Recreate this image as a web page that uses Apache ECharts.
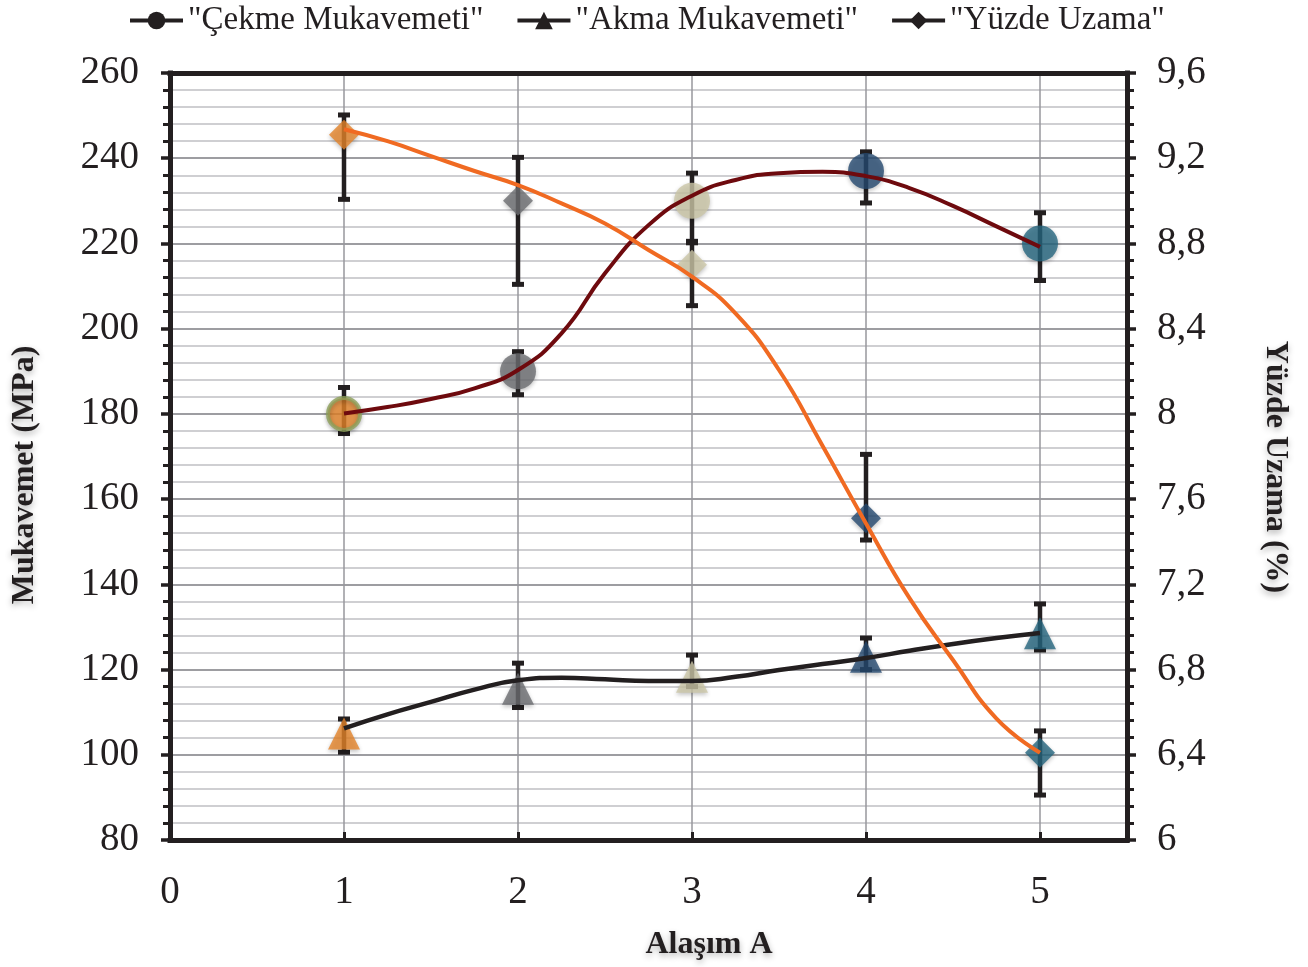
<!DOCTYPE html>
<html>
<head>
<meta charset="utf-8">
<script src="https://cdn.jsdelivr.net/npm/echarts@6/dist/echarts.min.js"></script>
<style>
html,body{margin:0;padding:0;background:#fff;}
#chart{width:1308px;height:967px;}
</style>
</head>
<body>
<div id="chart"></div>
<script>
// ---- data ----
const alloys = [1, 2, 3, 4, 5];
const seriesNames = ['"Çekme Mukavemeti"', '"Akma Mukavemeti"', '"Yüzde Uzama"'];
const pointColors = ['#e5852b', '#6d6e72', '#ccc7a7', '#254a70', '#26667f'];

const cekme = [180, 190, 230, 237, 220];
const cekmeLow = [175.4, 184.5, 220.5, 229.5, 211.3];
const cekmeHigh = [186.2, 194.6, 236.5, 241.5, 227.2];

const akma = [105, 115.5, 118.3, 123, 128.5];
const akmaLow = [100.6, 111.1, 116, 120, 124.6];
const akmaHigh = [108.4, 121.5, 123.4, 127.4, 135.4];

const uzama = [9.31, 9.0, 8.7, 7.51, 6.41];
const uzamaLow = [9.007, 8.608, 8.508, 7.408, 6.211];
const uzamaHigh = [9.403, 9.204, 8.803, 7.81, 6.512];

// trend curves
const trendX = [1, 1.25, 1.5, 1.75, 2, 2.25, 2.5, 2.75, 3, 3.25, 3.5, 3.75, 4, 4.25, 4.5, 4.75, 5];
const cekmeTrend = [180.1, 181.6, 183.5, 186.0, 190.3, 198.9, 213, 224.3, 231.2, 234.9, 236.5, 236.8, 235.8, 233, 228.8, 224, 219.2];
const akmaTrend = [106.2, 109.5, 112.4, 115.3, 117.5, 118.1, 117.7, 117.3, 117.3, 118.3, 119.9, 121.3, 122.7, 124.4, 126, 127.4, 128.6];
const uzamaTrend = [9.336, 9.28, 9.21, 9.14, 9.074, 8.988, 8.894, 8.769, 8.644, 8.472, 8.206, 7.85, 7.486, 7.135, 6.845, 6.57, 6.41];

const xTickLabels = ['0', '1', '2', '3', '4', '5'];
const leftTickLabels = ['80', '100', '120', '140', '160', '180', '200', '220', '240', '260'];
const rightTickLabels = ['6', '6,4', '6,8', '7,2', '7,6', '8', '8,4', '8,8', '9,2', '9,6'];

// ---- chart ----
const INK = '#231f20';
const FONT = 'Liberation Serif';
const chart = echarts.init(document.getElementById('chart'), null, {renderer: 'canvas'});

function pairs(xs, ys) { return xs.map((x, i) => [x, ys[i]]); }
function errData(lo, hi) { return alloys.map((x, i) => [x, lo[i], hi[i]]); }
function errRender(params, api) {
  const x = api.value(0);
  const lo = api.coord([x, api.value(1)]);
  const hi = api.coord([x, api.value(2)]);
  const cw = 12, ch = 5;
  return {
    type: 'group',
    children: [
      {type: 'line', shape: {x1: lo[0], y1: lo[1], x2: hi[0], y2: hi[1]}, style: {stroke: INK, lineWidth: 4.5}},
      {type: 'rect', shape: {x: hi[0] - cw / 2, y: hi[1] - ch / 2, width: cw, height: ch}, style: {fill: INK}},
      {type: 'rect', shape: {x: lo[0] - cw / 2, y: lo[1] - ch / 2, width: cw, height: ch}, style: {fill: INK}}
    ]
  };
}
function markerData(vals, sym) {
  return alloys.map((x, i) => {
    const d = {value: [x, vals[i]], itemStyle: {color: pointColors[i]}};
    if (sym === 'circle' && i === 0) {
      d.itemStyle.borderColor = '#8da05a';
      d.itemStyle.borderWidth = 4;
      d.symbolSize = 32;
    }
    return d;
  });
}
const shadow = {shadowBlur: 4, shadowColor: 'rgba(0,0,0,0.3)', shadowOffsetY: 2};

const option = {
  backgroundColor: '#ffffff',
  animation: false,
  legend: {
    data: seriesNames,
    left: 128, top: 4, padding: 0,
    itemWidth: 53, itemHeight: 22, itemGap: 32,
    textStyle: {fontFamily: FONT, fontSize: 33, color: INK},
    lineStyle: {color: INK, width: 4},
    itemStyle: {color: INK, borderWidth: 0}
  },
  grid: {left: 170, right: 181, top: 73, bottom: 127, containLabel: false},
  xAxis: [{
    type: 'value', min: 0, max: 5.5, interval: 1,
    axisLine: {show: true, onZero: false, lineStyle: {color: INK, width: 5, cap: 'square'}},
    axisTick: {show: true, inside: true, length: 8, lineStyle: {color: INK, width: 3}},
    axisLabel: {
      margin: 33, fontFamily: FONT, fontSize: 39, color: INK,
      formatter: v => (Number.isInteger(v) && v <= 5) ? xTickLabels[v] : ''
    },
    splitLine: {show: true, lineStyle: {color: '#97979c', width: 1.5}}
  }, {
    type: 'value', min: 0, max: 5.5, position: 'top',
    axisLine: {show: true, onZero: false, lineStyle: {color: INK, width: 5, cap: 'square'}},
    axisTick: {show: false}, axisLabel: {show: false}, splitLine: {show: false}
  }],
  yAxis: [{
    type: 'value', min: 80, max: 260, interval: 20, position: 'left',
    axisLine: {show: true, onZero: false, lineStyle: {color: INK, width: 5, cap: 'square'}},
    axisTick: {show: true, inside: false, length: 9, lineStyle: {color: INK, width: 3.5}},
    minorTick: {show: true, splitNumber: 5, length: 7, lineStyle: {color: INK, width: 3}},
    axisLabel: {
      margin: 31, fontFamily: FONT, fontSize: 39, color: INK,
      formatter: v => leftTickLabels[Math.round((v - 80) / 20)]
    },
    splitLine: {show: true, lineStyle: {color: '#9d9da1', width: 2}},
    minorSplitLine: {show: true, lineStyle: {color: '#cfcfd2', width: 2}}
  }, {
    type: 'value', min: 6, max: 9.6, interval: 0.4, position: 'right',
    axisLine: {show: true, onZero: false, lineStyle: {color: INK, width: 5, cap: 'square'}},
    axisTick: {show: true, inside: false, length: 9, lineStyle: {color: INK, width: 3.5}},
    minorTick: {show: true, splitNumber: 5, length: 7, lineStyle: {color: INK, width: 3}},
    axisLabel: {
      margin: 30, fontFamily: FONT, fontSize: 39, color: INK,
      formatter: v => rightTickLabels[Math.round((v - 6) / 0.4)]
    },
    splitLine: {show: false}
  }],
  graphic: [
    {type: 'text', x: 25, y: 475, rotation: Math.PI / 2, z: 10,
      style: {text: 'Mukavemet (MPa)', fontFamily: FONT, fontSize: 32, fontWeight: 'bold', fill: INK,
        align: 'center', verticalAlign: 'middle', textShadowColor: 'rgba(0,0,0,0.3)', textShadowBlur: 6, textShadowOffsetY: 3}},
    {type: 'text', x: 1275, y: 467, rotation: -Math.PI / 2, z: 10,
      style: {text: 'Yüzde Uzama (%)', fontFamily: FONT, fontSize: 32, fontWeight: 'bold', fill: INK,
        align: 'center', verticalAlign: 'middle', textShadowColor: 'rgba(0,0,0,0.3)', textShadowBlur: 6, textShadowOffsetY: 3}},
    {type: 'text', x: 709, y: 945, z: 10,
      style: {text: 'Alaşım A', fontFamily: FONT, fontSize: 32, fontWeight: 'bold', fill: INK,
        align: 'center', verticalAlign: 'middle', textShadowColor: 'rgba(0,0,0,0.3)', textShadowBlur: 6, textShadowOffsetY: 3}}
  ],
  series: [
    // error bars
    {type: 'custom', name: 'errC', yAxisIndex: 0, z: 1, renderItem: errRender, encode: {x: 0, y: [1, 2]}, data: errData(cekmeLow, cekmeHigh), silent: true},
    {type: 'custom', name: 'errA', yAxisIndex: 0, z: 1, renderItem: errRender, encode: {x: 0, y: [1, 2]}, data: errData(akmaLow, akmaHigh), silent: true},
    {type: 'custom', name: 'errU', yAxisIndex: 1, z: 1, renderItem: errRender, encode: {x: 0, y: [1, 2]}, data: errData(uzamaLow, uzamaHigh), silent: true},
    // markers
    {type: 'scatter', name: 'ptC', yAxisIndex: 0, z: 2, symbol: 'circle', symbolSize: 36, itemStyle: shadow, data: markerData(cekme, 'circle')},
    {type: 'scatter', name: 'ptA', yAxisIndex: 0, z: 2, symbol: 'triangle', symbolSize: 32, itemStyle: shadow, data: markerData(akma, 'triangle')},
    {type: 'scatter', name: 'ptU', yAxisIndex: 1, z: 2, symbol: 'diamond', symbolSize: 30, itemStyle: shadow, data: markerData(uzama, 'diamond')},
    // trend lines (legend entries)
    {type: 'line', name: seriesNames[0], yAxisIndex: 0, z: 3, smooth: 0.5, symbol: 'circle', showSymbol: false,
      lineStyle: {color: '#6e0a0e', width: 4}, itemStyle: {color: '#6e0a0e'}, data: pairs(trendX, cekmeTrend)},
    {type: 'line', name: seriesNames[1], yAxisIndex: 0, z: 3, smooth: 0.5, symbol: 'triangle', showSymbol: false,
      lineStyle: {color: INK, width: 4.5}, itemStyle: {color: INK}, data: pairs(trendX, akmaTrend)},
    {type: 'line', name: seriesNames[2], yAxisIndex: 1, z: 3, smooth: 0.5, symbol: 'diamond', showSymbol: false,
      lineStyle: {color: '#f06a22', width: 4}, itemStyle: {color: '#f06a22'}, data: pairs(trendX, uzamaTrend)}
  ]
};
chart.setOption(option);
</script>
</body>
</html>
